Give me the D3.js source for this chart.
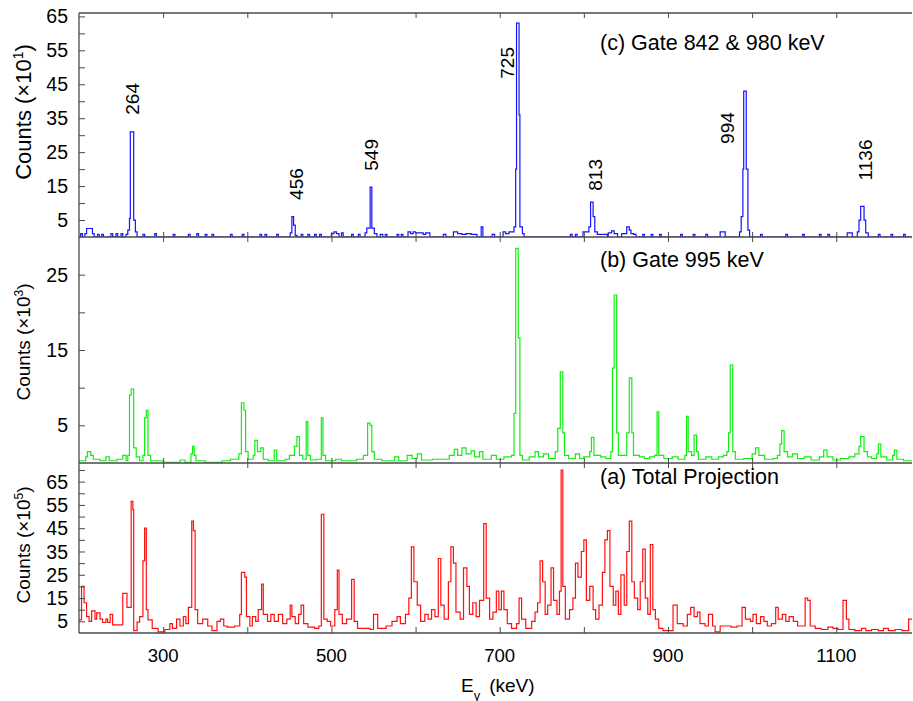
<!DOCTYPE html>
<meta charset="utf-8">
<html>
<head>
<title>Gamma-ray spectra</title>
<style>
  body { margin: 0; background: #fff; }
  svg { font-family: "Liberation Sans", Arial, Helvetica, sans-serif; }
</style>
</head>
<body>
<div id="chart"></div>
<script src="https://d3js.org/d3.v7.min.js"></script>
<script>
// each spectrum is a step histogram: [bin start energy (keV), counts]
var spectrumC = [
  [200,0],[202,1],[204,0],[207,1],[209,2.5],[216,1],[218,0],[222,0.8],[224,0],[227,0.8],[229,0],
  [238,1],[240,0],[244,1],[246,0],[250,1],[252,0],[256,0.8],[258,2],[260,5.5],[261,31],[265,5],
  [267,1.5],[269,0],[276,0.8],[278,0],[290,1],[292,0],[312,0.8],[314,0],[330,0.8],[332,0],
  [340,1],[342,0],[350,0.8],[352,0],[358,0.8],[360,0],[380,0.8],[382,0],[394,0.8],[396,0],
  [415,0.8],[417,0],[421,0.8],[423,0],[435,0.8],[437,0],[451,1.2],[453,6],[455,3.5],[457,0.5],
  [459,0],[464,0.8],[466,0],[472,0.8],[474,0],[480,0.8],[482,0],[486,0.8],[488,0],
  [500,1],[503,1.5],[506,1],[509,0],[512,1.2],[514,0],[524,0.8],[526,0],[532,0.8],[534,0],
  [540,1.2],[542,2.6],[546,14.7],[548,2.6],[551,1],[554,0],[558,0.8],[561,0],[564,0.8],[566,0],
  [578,0.8],[580,0],[583,0.8],[585,0],[591,1.5],[594,1],[597,1.5],[600,1.2],[605,1.2],[609,0.8],
  [612,1.2],[617,0],[633,0.8],[636,0],[645,1.5],[650,1],[655,0.8],[660,1],[666,0.8],[673,0],
  [678,3],[680,0],[691,0.8],[694,0],[704,1.5],[707,1],[711,1.5],[714,1.5],[717,3],[719,20],
  [720,63],[723,36],[724,3],[727,1],[729,0],[784,0.8],[786,0],[790,0.8],[792,0],[799,1.5],
  [806,3],[808,10.3],[811,6],[813,1.5],[816,0.8],[828,0],[829,1.2],[833,1.8],[836,1],[840,0],
  [845,1],[851,3],[854,2],[856,1],[859,0.8],[862,0],[870,0.8],[872,0],[880,0.8],[882,0],
  [890,0.8],[892,0],[915,0.8],[917,0],[930,0.8],[932,0],[945,0.8],[947,0],[962,1.5],[968,0],
  [985,1.5],[987,6],[989,20],[990,43],[993,20],[995,2],[997,0],[1010,0.8],[1012,0],
  [1040,0.8],[1042,0],[1060,0.8],[1062,0],[1080,0.8],[1082,0],[1090,0.8],[1092,0],
  [1113,1.2],[1119,0],[1125,1.5],[1127,5],[1129,9],[1133,5],[1135,1.2],[1138,0],
  [1150,0.8],[1152,0],[1165,0.8],[1167,0],[1180,0.8],[1182,0]
];

var spectrumB = [
  [200,0.3],[208,0.8],[210,1.5],[214,1],[217,0.5],[225,0.3],[232,0.8],[236,0.3],[245,0.5],
  [252,1],[256,0.3],[258,1],[260,9],[262,9.8],[265,2],[268,0.8],[272,0.3],[276,1],[278,6],
  [280,7],[282,1],[285,0.3],[300,0.1],[320,0.4],[326,0.1],[333,1.2],[335,2.2],[337,1],
  [339,0.3],[350,0.1],[370,0.3],[380,0.5],[390,1.2],[393,8],[396,7],[398,1.5],[401,0.5],
  [407,1],[409,3],[412,1.5],[416,2],[419,0.5],[425,0.3],[432,1.7],[435,0.3],[445,0.5],
  [450,1],[454,1],[456,2.2],[459,3.5],[462,1],[466,0.5],[470,5.5],[472,1],[475,0.4],
  [482,0.5],[488,6],[490,1],[493,0.3],[505,0.5],[512,0.3],[530,0.5],[538,1],[543,5.3],
  [546,5],[548,1.5],[551,0.5],[560,0.3],[575,0.8],[580,0.3],[590,1],[596,0.6],[602,1.2],
  [607,0.4],[620,0.5],[640,1],[646,1.8],[650,1],[655,2],[660,1.2],[666,1.6],[670,0.8],
  [676,1.5],[680,0.5],[690,1],[696,0.5],[705,0.8],[714,1],[717,6.6],[719,28.5],[722,16.6],
  [724,1],[727,0.4],[735,0.8],[742,1.5],[746,0.8],[752,1.2],[758,0.6],[766,1.5],[769,4.6],
  [772,12.1],[775,4],[777,1],[782,0.6],[790,1.2],[795,0.6],[800,0.8],[807,1.5],[809,3.4],
  [812,1],[820,0.8],[826,0.6],[832,1.5],[834,12.6],[836,22.3],[839,4],[841,1],[846,1],
  [851,4],[854,11.3],[857,4],[859,1],[866,0.8],[872,0.6],[878,0.8],[884,1],[887,6.8],
  [889,1],[895,0.6],[905,0.8],[912,0.5],[920,1],[922,6.2],[924,1.5],[928,1],[931,3.7],
  [934,1.5],[936,0.5],[945,0.8],[952,0.5],[960,0.8],[966,1],[970,1.5],[972,4],[974,13],
  [977,1.5],[980,0.5],[990,0.6],[1000,1.2],[1004,2],[1008,1],[1015,0.5],[1025,0.6],
  [1030,1],[1033,2.5],[1035,4.3],[1038,1.5],[1042,0.8],[1048,1.2],[1054,0.6],[1062,0.8],
  [1070,0.4],[1080,0.8],[1085,1.7],[1089,0.8],[1096,0.4],[1105,0.6],[1115,0.8],[1122,1.2],
  [1127,2.2],[1129,3.5],[1133,1.5],[1137,0.8],[1142,0.6],[1148,1.2],[1150,2.5],[1153,0.8],
  [1160,0.4],[1167,1],[1169,1.7],[1172,0.5],[1180,0.3]
];

var spectrumA = [
  [200,5.6],[203,20],[206,13],[209,7],[212,5],[215,9.5],[219,6],[221,8.6],[225,6],[228,4.5],
  [232,6],[234,4.5],[237,8],[240,3.5],[252,17],[257,11],[262,56.5],[264,53],[265,1],[269,4.7],
  [272,7],[276,31],[278,45],[280,10],[282,5.6],[287,2],[294,0.5],[302,1.5],[308,4],[311,2],
  [316,6],[320,3],[324,7],[327,4],[330,11],[334,48],[336,44],[338,10],[341,4],[347,6],
  [353,3],[358,1],[364,5],[368,6],[372,3],[376,2.5],[385,3],[391,8],[393,26],[397,24],
  [399,7],[403,3],[406,7],[410,5],[413,10],[417,21],[419,8],[424,5],[428,8],[432,5],
  [437,8],[442,4],[447,6],[451,12],[453,7],[457,4],[461,8],[464,12],[467,4],[472,2.5],
  [480,2],[485,3],[488,51],[491,6],[495,5],[499,3],[504,10],[507,27],[509,8],[513,4],
  [518,6],[524,23],[527,5],[531,2],[540,2],[546,1.5],[550,8],[555,2],[565,3],[572,5],
  [578,7],[582,4],[588,8],[592,15],[595,37],[598,22],[602,12],[606,5],[611,8],[615,6],
  [619,10],[623,7],[627,32],[630,12],[634,6],[639,22],[642,37],[645,30],[648,9],[653,6],
  [657,28],[661,20],[664,8],[668,13],[672,7],[676,14],[681,47],[684,15],[688,6],[692,9],
  [696,18],[699,10],[702,18],[705,10],[709,4],[714,2],[720,4],[723,15],[726,6],[731,2],
  [738,5],[742,9],[745,13],[748,31],[751,22],[754,8],[757,12],[761,28],[764,14],[768,8],
  [771,18],[773,70],[775,20],[778,6],[783,10],[787,15],[790,30],[793,24],[797,35],[800,40],
  [803,14],[807,20],[811,10],[814,6],[818,12],[822,26],[825,40],[828,44],[831,20],[835,12],
  [838,18],[841,8],[844,25],[848,12],[851,35],[854,48],[857,22],[860,15],[864,10],[867,22],
  [870,36],[873,15],[876,8],[879,38],[882,10],[885,6],[889,2],[894,1],[906,12],[911,4],
  [918,3],[923,8],[927,11],[931,7],[935,9],[938,4],[944,3],[948,8],[953,3],[956,0.5],
  [962,3],[975,2.5],[982,3],[988,11],[992,6],[998,5],[1001,8],[1005,4],[1010,7],[1014,5],
  [1018,3],[1023,4],[1028,11],[1031,6],[1036,8],[1040,5],[1044,7],[1049,5],[1054,3],
  [1063,15],[1066,14],[1069,3],[1075,2],[1082,1.5],[1090,2.5],[1096,2],[1102,1.5],
  [1108,14],[1112,6],[1115,1.5],[1122,1],[1130,2],[1135,1],[1142,1.5],[1150,1],[1156,2],
  [1162,1],[1170,1.5],[1178,1],[1186,6]
];

var peakNames = ["264", "456", "549", "725", "813", "994", "1136"];
var peakLabelAt = [[263,40.7],[458,15.6],[548,24.2],[709,51.3],[814,18.3],[970,32.1],[1135,22.7]];

var xTicks = [300, 400, 500, 600, 700, 800, 900, 1000, 1100];
var xTickLabels = [300, 500, 700, 900, 1100];

var yTicksC = [5,10,15,20,25,30,35,40,45,50,55,60,65];
var yLabelsC = [5,15,25,35,45,55,65];
var yTicksB = [5,10,15,20,25];
var yLabelsB = [5,15,25];
var yTicksA = [5,10,15,20,25,30,35,40,45,50,55,60,65,70];
var yLabelsA = [5,15,25,35,45,55,65];

var width = 913, height = 701;
var left = 79, right = 912;
var axisColor = "#4a4a4a";

var svg = d3.select("#chart").append("svg")
  .attr("width", width)
  .attr("height", height);

var x = d3.scaleLinear().domain([200, 1190]).range([left, right]);

var panels = [
  {id: "c", data: spectrumC, top: 13, bottom: 237, max: 66, color: "#1414ff",
   ticks: yTicksC, labels: yLabelsC, exp: "1", title: "(c) Gate 842 & 980 keV", titleY: 50,
   axisY: 112, axisFont: 22},
  {id: "b", data: spectrumB, top: 237, bottom: 463, max: 30, color: "#10f010",
   ticks: yTicksB, labels: yLabelsB, exp: "3", title: "(b) Gate 995 keV", titleY: 267,
   axisY: 342, axisFont: 19},
  {id: "a", data: spectrumA, top: 463, bottom: 633, max: 73, color: "#ff1010",
   ticks: yTicksA, labels: yLabelsA, exp: "5", title: "(a) Total Projection", titleY: 484,
   axisY: 545, axisFont: 19}
];

panels.forEach(function(p) {
  var y = d3.scaleLinear().domain([0, p.max]).range([p.bottom, p.top]);
  p.y = y;

  svg.append("clipPath").attr("id", "clip-" + p.id)
    .append("rect")
    .attr("x", left).attr("y", p.top)
    .attr("width", right - left).attr("height", p.bottom - p.top);

  var pts = p.data.concat([[1190, p.data[p.data.length - 1][1]]]);
  var line = d3.line()
    .x(function(d) { return x(d[0]); })
    .y(function(d) { return y(d[1]); })
    .curve(d3.curveStepAfter);

  svg.append("path")
    .attr("d", line(pts))
    .attr("clip-path", "url(#clip-" + p.id + ")")
    .attr("fill", "none")
    .attr("stroke", p.color)
    .attr("stroke-width", 1.2);

  // inward ticks on the left axis
  svg.append("g")
    .attr("transform", "translate(" + left + ",0)")
    .call(d3.axisRight(y).tickValues(p.ticks).tickSize(6).tickFormat(""))
    .call(function(g) { g.select(".domain").remove(); })
    .selectAll("line").attr("stroke", axisColor);

  svg.append("g").selectAll("text")
    .data(p.labels)
    .join("text")
    .attr("x", 68)
    .attr("y", function(d) { return y(d); })
    .attr("dy", "0.36em")
    .attr("text-anchor", "end")
    .style("font-size", "19.5px")
    .text(function(d) { return d; });

  var t = svg.append("text")
    .attr("transform", "translate(23," + p.axisY + ") rotate(-90)")
    .attr("dy", "0.35em")
    .attr("text-anchor", "middle")
    .style("font-size", p.axisFont + "px");
  t.append("tspan").text("Counts (\u00d710");
  t.append("tspan").attr("baseline-shift", "super").style("font-size", Math.round(p.axisFont * 0.63) + "px").text(p.exp);
  t.append("tspan").text(")");

  svg.append("text")
    .attr("x", 600)
    .attr("y", p.titleY)
    .style("font-size", "21.5px")
    .text(p.title);
});

// peak labels in panel (c)
svg.append("g").selectAll("text")
  .data(peakNames)
  .join("text")
  .attr("transform", function(d, i) {
    return "translate(" + x(peakLabelAt[i][0]) + "," + panels[0].y(peakLabelAt[i][1]) + ") rotate(-90)";
  })
  .attr("dy", "0.35em")
  .attr("text-anchor", "middle")
  .style("font-size", "19px")
  .text(function(d) { return d; });

// frame lines
var hLines = [13, 237, 463, 633];
svg.append("g").selectAll("line")
  .data(hLines)
  .join("line")
  .attr("x1", left).attr("x2", right)
  .attr("y1", function(d) { return d; })
  .attr("y2", function(d) { return d; })
  .attr("stroke", axisColor)
  .attr("stroke-width", 1.3);
svg.append("line")
  .attr("x1", left).attr("x2", left)
  .attr("y1", 13).attr("y2", 633)
  .attr("stroke", axisColor)
  .attr("stroke-width", 1.3);

// energy ticks on each horizontal line
function energyTicks(yPos, up, down) {
  if (down > 0) {
    svg.append("g").attr("transform", "translate(0," + yPos + ")")
      .call(d3.axisBottom(x).tickValues(xTicks).tickSize(down).tickFormat(""))
      .call(function(g) { g.select(".domain").remove(); })
      .selectAll("line").attr("stroke", axisColor);
  }
  if (up > 0) {
    svg.append("g").attr("transform", "translate(0," + yPos + ")")
      .call(d3.axisTop(x).tickValues(xTicks).tickSize(up).tickFormat(""))
      .call(function(g) { g.select(".domain").remove(); })
      .selectAll("line").attr("stroke", axisColor);
  }
}
energyTicks(13, 0, 5);
energyTicks(237, 5, 5);
energyTicks(463, 5, 5);
energyTicks(633, 6, 0);

svg.append("g").selectAll("text")
  .data(xTickLabels)
  .join("text")
  .attr("x", function(d) { return x(d); })
  .attr("y", 662)
  .attr("text-anchor", "middle")
  .style("font-size", "18.6px")
  .text(function(d) { return d; });

var xt = svg.append("text")
  .attr("x", 461)
  .attr("y", 692)
  .style("font-size", "19px");
xt.append("tspan").text("E");
xt.append("tspan").attr("baseline-shift", "sub").style("font-size", "13px").text("\u03b3");
xt.append("tspan").attr("dx", 9).text("(keV)");
</script>
</body>
</html>
